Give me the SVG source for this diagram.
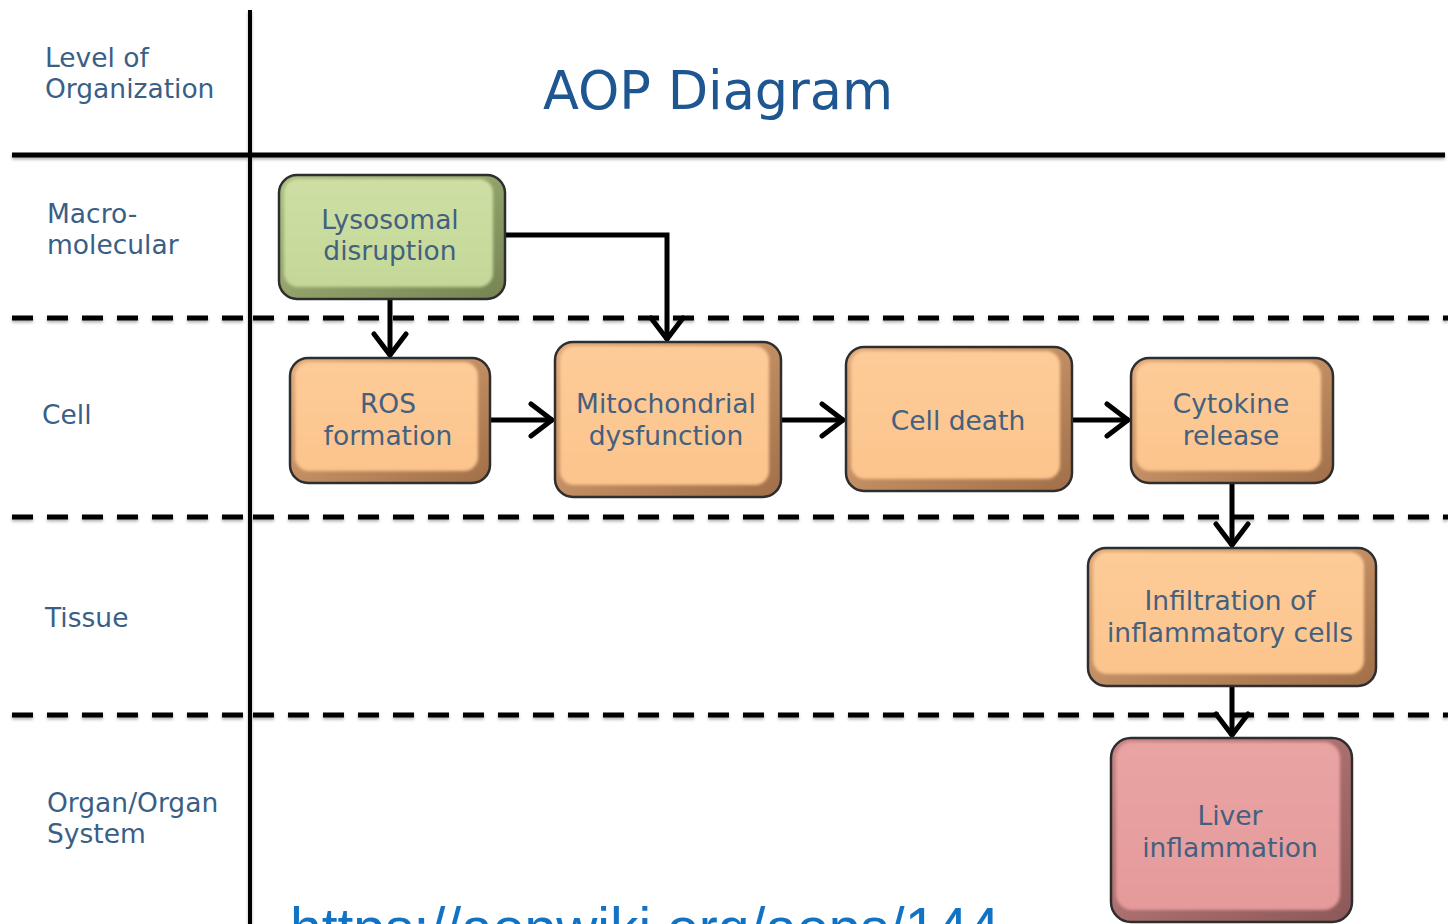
<svg xmlns="http://www.w3.org/2000/svg" width="1448" height="924" viewBox="0 0 1448 924">
  <defs>
    <style>
      .lvl { font-family: "DejaVu Sans", Verdana, sans-serif; font-size: 26.5px; fill: #3a5f86; }
      .title { font-family: "DejaVu Sans", Verdana, sans-serif; font-size: 52.5px; fill: #1d5690; }
      .lbl { font-family: "DejaVu Sans", Verdana, sans-serif; font-size: 26.5px; fill: #44607f; text-anchor: middle; }
      .url { font-family: "Liberation Sans", Arial, sans-serif; font-size: 57px; fill: #1273c4; }
      .rule { stroke: #000; fill: none; }
      .dash { stroke: #000; stroke-width: 5; stroke-dasharray: 21 14; fill: none; }
      .edge { stroke: #2e2e2e; stroke-width: 2.5; }
      .face { filter: url(#soft); }
      .link { stroke: #000; stroke-width: 5; fill: none; marker-end: url(#chev); }
      .orange .edge { fill: url(#edgeOrange); }
      .orange .face { fill: url(#faceOrange); }
      .green .edge { fill: url(#edgeGreen); }
      .green .face { fill: url(#faceGreen); }
      .pink .edge { fill: url(#edgePink); }
      .pink .face { fill: url(#facePink); }
    </style>
    <filter id="soft" x="-5%" y="-5%" width="110%" height="110%">
      <feGaussianBlur stdDeviation="1.8"/>
    </filter>
    <filter id="lineShadow" x="-1%" y="-50%" width="102%" height="300%">
      <feDropShadow dx="0" dy="2" stdDeviation="1.5" flood-color="#000" flood-opacity="0.3"/>
    </filter>
    <linearGradient id="edgeOrange" x1="0" y1="0" x2="1" y2="1">
      <stop offset="0" stop-color="#e2ab7b"/>
      <stop offset="1" stop-color="#a06f49"/>
    </linearGradient>
    <linearGradient id="faceOrange" x1="0" y1="0" x2="0" y2="1">
      <stop offset="0" stop-color="#fdcb98"/>
      <stop offset="1" stop-color="#fcc48c"/>
    </linearGradient>
    <linearGradient id="edgeGreen" x1="0" y1="0" x2="1" y2="1">
      <stop offset="0" stop-color="#aebf82"/>
      <stop offset="1" stop-color="#758452"/>
    </linearGradient>
    <linearGradient id="faceGreen" x1="0" y1="0" x2="0" y2="1">
      <stop offset="0" stop-color="#cddfa4"/>
      <stop offset="1" stop-color="#c4d898"/>
    </linearGradient>
    <linearGradient id="edgePink" x1="0" y1="0" x2="1" y2="1">
      <stop offset="0" stop-color="#c98585"/>
      <stop offset="1" stop-color="#8c5858"/>
    </linearGradient>
    <linearGradient id="facePink" x1="0" y1="0" x2="0" y2="1">
      <stop offset="0" stop-color="#e9a3a3"/>
      <stop offset="1" stop-color="#e59a9a"/>
    </linearGradient>
    <marker id="chev" viewBox="0 0 32 38" refX="28" refY="19" markerWidth="32" markerHeight="38" markerUnits="userSpaceOnUse" orient="auto">
      <path d="M6 3 L27 19 L6 35" fill="none" stroke="#000" stroke-width="5" stroke-linecap="round" stroke-linejoin="miter"/>
    </marker>
  </defs>

  <rect width="1448" height="924" fill="#fff"/>

  <!-- grid of organisation levels -->
  <g id="grid" filter="url(#lineShadow)">
    <line class="rule" x1="250" y1="10" x2="250" y2="924" stroke-width="4"/>
    <line class="rule" x1="12" y1="155" x2="1445" y2="155" stroke-width="5"/>
    <line class="dash" x1="12" y1="318" x2="250" y2="318"/>
    <line class="dash" x1="253" y1="318" x2="1448" y2="318"/>
    <line class="dash" x1="12" y1="517" x2="250" y2="517"/>
    <line class="dash" x1="253" y1="517" x2="1448" y2="517"/>
    <line class="dash" x1="12" y1="715" x2="250" y2="715"/>
    <line class="dash" x1="253" y1="715" x2="1448" y2="715"/>
  </g>

  <!-- level labels -->
  <g id="levels">
    <text class="lvl" x="45" y="67">Level of</text>
    <text class="lvl" x="45" y="98">Organization</text>
    <text class="lvl" x="47" y="223">Macro-</text>
    <text class="lvl" x="47" y="254">molecular</text>
    <text class="lvl" x="42" y="424">Cell</text>
    <text class="lvl" x="45" y="627">Tissue</text>
    <text class="lvl" x="47" y="812">Organ/Organ</text>
    <text class="lvl" x="47" y="843">System</text>
  </g>

  <text id="title" class="title" x="543" y="109">AOP Diagram</text>

  <!-- connectors -->
  <g id="connectors">
    <path class="link" d="M390 299 V356"/>
    <path class="link" d="M505 235 H667 V340"/>
    <path class="link" d="M490 420 H553"/>
    <path class="link" d="M781 420 H844"/>
    <path class="link" d="M1072 420 H1129"/>
    <path class="link" d="M1232 483 V546"/>
    <path class="link" d="M1232 686 V736"/>
  </g>

  <!-- key events: dark bevel body with a lighter face inset toward the top-left -->
  <g id="lysosomal-disruption" class="green">
    <rect class="edge" x="279" y="175" width="226" height="124" rx="18"/>
    <rect class="face" x="284" y="179" width="209" height="108" rx="14"/>
    <text class="lbl" x="390" y="229">Lysosomal</text>
    <text class="lbl" x="390" y="260">disruption</text>
  </g>

  <g id="ros-formation" class="orange">
    <rect class="edge" x="290" y="358" width="200" height="125" rx="18"/>
    <rect class="face" x="295" y="362" width="183" height="109" rx="14"/>
    <text class="lbl" x="388" y="413">ROS</text>
    <text class="lbl" x="388" y="445">formation</text>
  </g>

  <g id="mitochondrial-dysfunction" class="orange">
    <rect class="edge" x="555" y="342" width="226" height="155" rx="18"/>
    <rect class="face" x="560" y="346" width="209" height="139" rx="14"/>
    <text class="lbl" x="666" y="413">Mitochondrial</text>
    <text class="lbl" x="666" y="445">dysfunction</text>
  </g>

  <g id="cell-death" class="orange">
    <rect class="edge" x="846" y="347" width="226" height="144" rx="18"/>
    <rect class="face" x="851" y="351" width="209" height="128" rx="14"/>
    <text class="lbl" x="958" y="430">Cell death</text>
  </g>

  <g id="cytokine-release" class="orange">
    <rect class="edge" x="1131" y="358" width="202" height="125" rx="18"/>
    <rect class="face" x="1136" y="362" width="185" height="109" rx="14"/>
    <text class="lbl" x="1231" y="413">Cytokine</text>
    <text class="lbl" x="1231" y="445">release</text>
  </g>

  <g id="infiltration-of-inflammatory-cells" class="orange">
    <rect class="edge" x="1088" y="548" width="288" height="138" rx="18"/>
    <rect class="face" x="1093" y="552" width="271" height="122" rx="14"/>
    <text class="lbl" x="1230" y="610">Infiltration of</text>
    <text class="lbl" x="1230" y="642" textLength="246">inflammatory cells</text>
  </g>

  <g id="liver-inflammation" class="pink">
    <rect class="edge" x="1111" y="738" width="241" height="184" rx="20"/>
    <rect class="face" x="1116" y="742" width="224" height="168" rx="16"/>
    <text class="lbl" x="1230" y="825">Liver</text>
    <text class="lbl" x="1230" y="857">inflammation</text>
  </g>

  <!-- source link, running off the bottom edge -->
  <text id="source" class="url" x="290" y="948">https://aopwiki.org/aops/144</text>
</svg>
